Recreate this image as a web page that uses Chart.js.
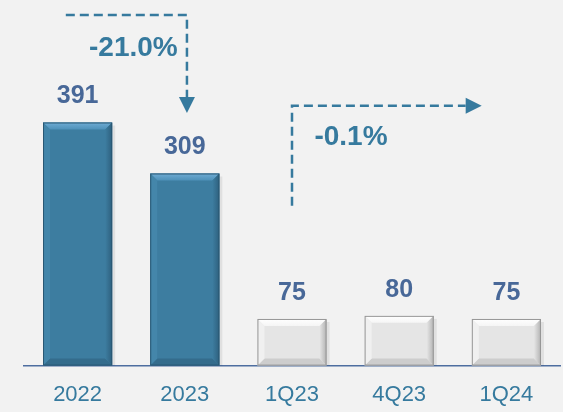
<!DOCTYPE html>
<html>
<head>
<meta charset="utf-8">
<script src="https://cdn.jsdelivr.net/npm/chart.js@4.4.1/dist/chart.umd.min.js"></script>
<style>
  html, body { margin: 0; padding: 0; background: #f2f2f2; }
  #wrap { width: 563px; height: 412px; position: relative; }
</style>
</head>
<body>
<div id="wrap"><canvas id="c" width="563" height="412"></canvas></div>
<script>
// ---- data ----
const categories = ["2022", "2023", "1Q23", "4Q23", "1Q24"];
const values = [391, 309, 75, 80, 75];
const annualChange = "-21.0%";
const quarterChange = "-0.1%";

// ---- styles ----
const BLUE = { fill: "rgb(61,125,160)", top1: "rgb(112,172,212)", top2: "rgb(78,145,185)", left: "rgb(68,134,170)", right: "rgb(46,96,126)", bottom: "rgb(52,108,140)", edge: "rgb(42,88,115)" };
const GRAY = { fill: "rgb(229,229,229)", top1: "rgb(255,255,255)", top2: "rgb(245,245,245)", left: "rgb(240,240,240)", right: "rgb(178,178,178)", bottom: "rgb(205,205,205)", edge: "rgb(150,150,150)" };
const barStyles = [BLUE, BLUE, GRAY, GRAY, GRAY];
const TEAL = "rgb(54,122,158)";
const LABEL_BLUE = "rgb(72,104,152)";

const bevelPlugin = {
  id: "bevel",
  afterDatasetsDraw(chart) {
    const ctx = chart.ctx;
    const meta = chart.getDatasetMeta(0);
    meta.data.forEach((bar, i) => {
      const st = barStyles[i];
      const p = bar.getProps(["x", "y", "base", "width"], true);
      const l = p.x - p.width / 2, r = p.x + p.width / 2, t = p.y, b = p.base;
      const bv = 7;
      ctx.save();
      ctx.fillStyle = "rgba(0,0,0,0.07)";
      ctx.fillRect(r, t + 3, 3, b - t - 3);
      const poly = (pts, col) => {
        ctx.beginPath();
        ctx.moveTo(pts[0][0], pts[0][1]);
        for (let k = 1; k < pts.length; k++) ctx.lineTo(pts[k][0], pts[k][1]);
        ctx.closePath();
        ctx.fillStyle = col;
        ctx.fill();
      };
      const g = ctx.createLinearGradient(0, t, 0, t + bv);
      g.addColorStop(0, st.top1); g.addColorStop(1, st.top2);
      poly([[l, t], [r, t], [r - bv, t + bv], [l + bv, t + bv]], g);
      poly([[l, b], [r, b], [r - bv, b - bv], [l + bv, b - bv]], st.bottom);
      poly([[l, t], [l + bv, t + bv], [l + bv, b - bv], [l, b]], st.left);
      const gr = ctx.createLinearGradient(r - bv, 0, r, 0);
      gr.addColorStop(0, st.fill); gr.addColorStop(1, st.right);
      poly([[r, t], [r - bv, t + bv], [r - bv, b - bv], [r, b]], gr);
      ctx.strokeStyle = st.edge;
      ctx.lineWidth = 1;
      ctx.strokeRect(l + 0.5, t + 0.5, p.width - 1, b - t - 1);
      ctx.restore();
    });
  }
};

const labelPlugin = {
  id: "valueLabels",
  afterDatasetsDraw(chart) {
    const ctx = chart.ctx;
    const meta = chart.getDatasetMeta(0);
    ctx.save();
    ctx.font = "bold 25px 'Liberation Sans', Arial, sans-serif";
    ctx.fillStyle = LABEL_BLUE;
    ctx.textAlign = "center";
    ctx.textBaseline = "middle";
    meta.data.forEach((bar, i) => {
      ctx.fillText(String(values[i]), bar.x, bar.y - 26);
    });
    ctx.restore();
  }
};

const arrowPlugin = {
  id: "changeArrows",
  afterDraw(chart) {
    const ctx = chart.ctx;
    const xs = chart.scales.x, ys = chart.scales.y;
    const step = xs.getPixelForValue(1) - xs.getPixelForValue(0);
    const tri = (x, y, dir) => {
      ctx.beginPath();
      if (dir === "down") { ctx.moveTo(x - 8, y); ctx.lineTo(x + 8, y); ctx.lineTo(x, y + 16); }
      else { ctx.moveTo(x, y - 8); ctx.lineTo(x, y + 8); ctx.lineTo(x + 16, y); }
      ctx.closePath(); ctx.fill();
    };
    ctx.save();
    ctx.strokeStyle = TEAL; ctx.fillStyle = TEAL;
    ctx.lineWidth = 2.5; ctx.setLineDash([9, 5]);
    const x0 = xs.getPixelForValue(0) - step * 0.11;
    const x1 = xs.getPixelForValue(1) + step * 0.02;
    const yTop = ys.getPixelForValue(564);
    const yDown = ys.getPixelForValue(432);
    ctx.beginPath(); ctx.moveTo(x0, yTop); ctx.lineTo(x1, yTop); ctx.lineTo(x1, yDown); ctx.stroke();
    ctx.setLineDash([]);
    tri(x1, yDown, "down");
    ctx.setLineDash([9, 5]);
    const qx0 = xs.getPixelForValue(2);
    const qx1 = xs.getPixelForValue(4) - step * 0.38;
    const qyTop = ys.getPixelForValue(418);
    const qyBot = ys.getPixelForValue(257);
    ctx.beginPath(); ctx.moveTo(qx0, qyBot); ctx.lineTo(qx0, qyTop); ctx.lineTo(qx1, qyTop); ctx.stroke();
    ctx.setLineDash([]);
    tri(qx1, qyTop, "right");
    ctx.font = "bold 28px 'Liberation Sans', Arial, sans-serif";
    ctx.textAlign = "center"; ctx.textBaseline = "middle";
    ctx.fillText(annualChange, (x0 + x1) / 2 + 7, ys.getPixelForValue(510));
    ctx.fillText(quarterChange, qx0 + 59, ys.getPixelForValue(368));
    ctx.restore();
  }
};

new Chart(document.getElementById("c"), {
  type: "bar",
  data: {
    labels: categories,
    datasets: [{
      data: values,
      backgroundColor: barStyles.map(s => s.fill),
      borderWidth: 0,
      categoryPercentage: 1,
      barPercentage: 0.645
    }]
  },
  options: {
    responsive: false,
    animation: false,
    devicePixelRatio: 1,
    layout: { padding: { left: 24, right: 3, top: 0, bottom: -12 } },
    plugins: { legend: { display: false }, tooltip: { enabled: false } },
    scales: {
      x: {
        grid: { display: false, drawTicks: false },
        border: { display: true, color: "rgb(78,110,160)", width: 1.5 },
        ticks: { color: TEAL, padding: 16, font: { family: "'Liberation Sans', Arial, sans-serif", size: 22 } }
      },
      y: { display: false, min: 0, max: 588 }
    }
  },
  plugins: [bevelPlugin, labelPlugin, arrowPlugin]
});
</script>
</body>
</html>
